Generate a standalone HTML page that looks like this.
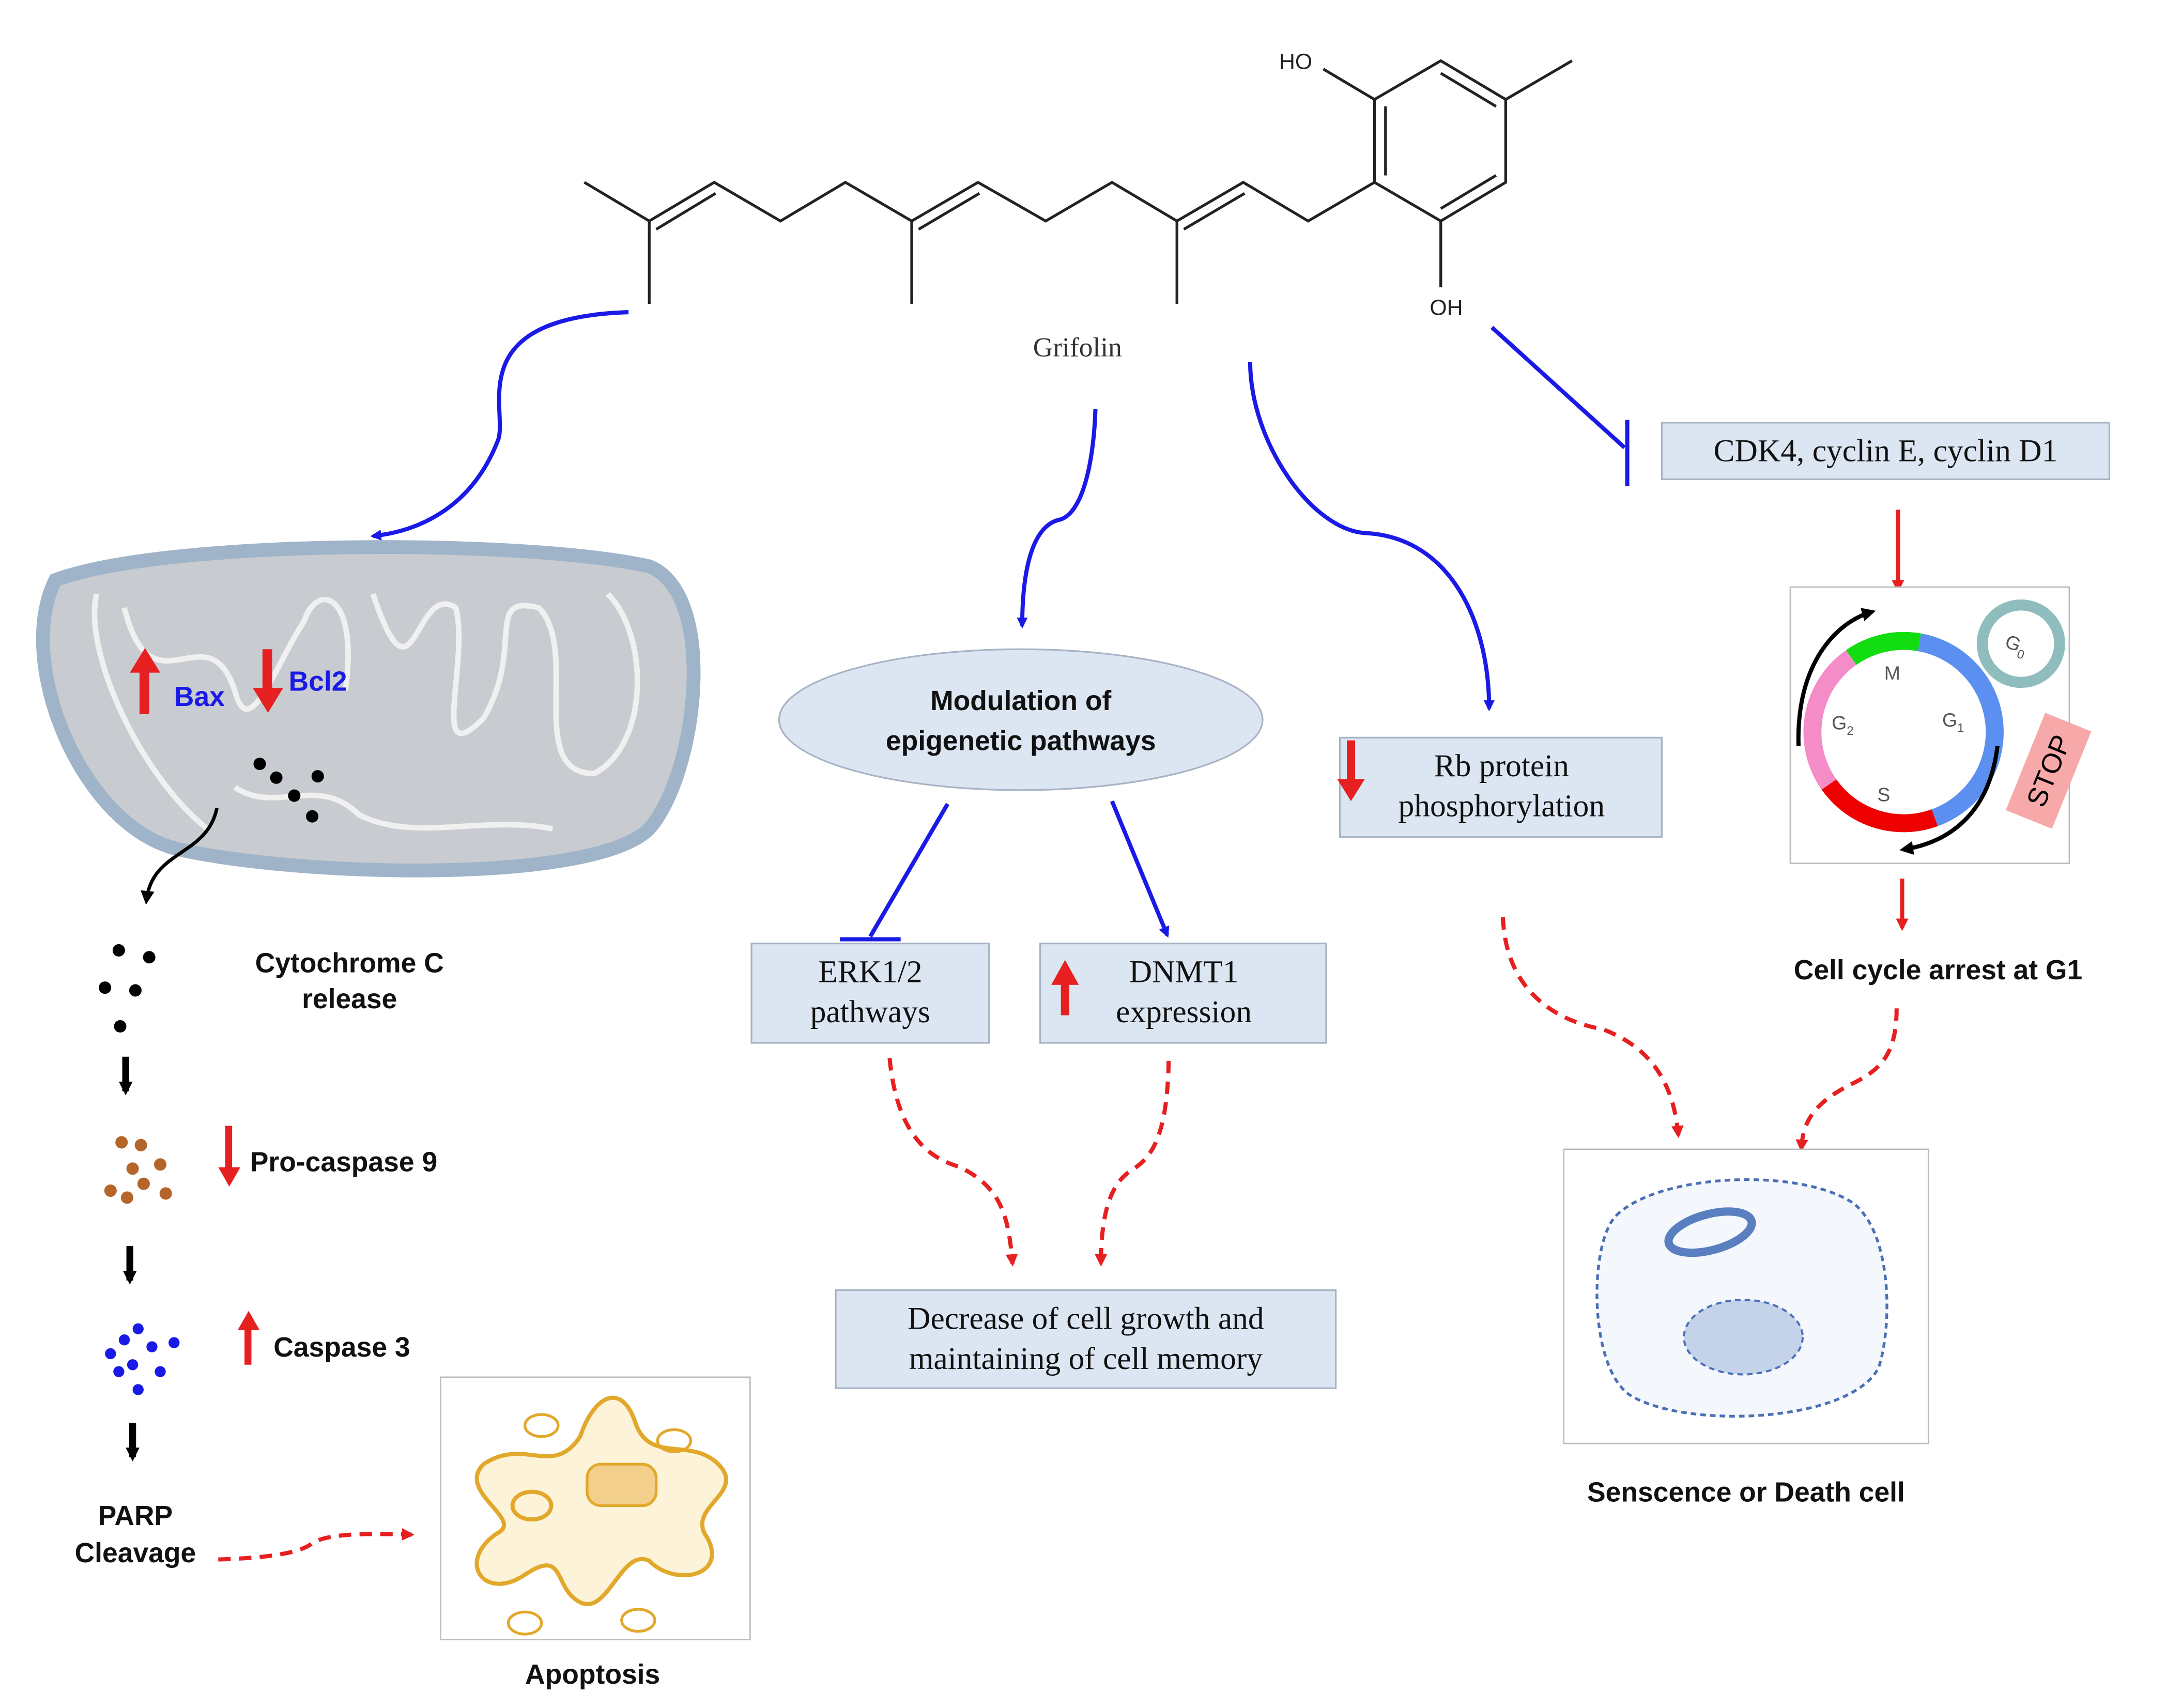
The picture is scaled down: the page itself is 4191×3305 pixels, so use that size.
<!DOCTYPE html>
<html><head><meta charset="utf-8"><style>
html,body{margin:0;padding:0;background:#fff}
svg{display:block}
.s{font-family:"Liberation Serif",serif}
.c{font-family:"Liberation Sans",sans-serif;font-weight:bold}
</style></head><body>
<svg width="4191" height="3305" viewBox="0 0 1568 1236.5" preserveAspectRatio="none" xmlns="http://www.w3.org/2000/svg">
<defs>
<marker id="ab" markerWidth="8" markerHeight="8" refX="6" refY="4" orient="auto" markerUnits="userSpaceOnUse"><path d="M0,0 L8,4 L0,8 z" fill="#1a1ae6"/></marker>
<marker id="ar" markerWidth="9" markerHeight="9" refX="7" refY="4.5" orient="auto" markerUnits="userSpaceOnUse"><path d="M0,0 L9,4.5 L0,9 z" fill="#e62020"/></marker>
<marker id="ak" markerWidth="10" markerHeight="10" refX="7" refY="5" orient="auto" markerUnits="userSpaceOnUse"><path d="M0,0 L10,5 L0,10 z" fill="#000"/></marker>
</defs>
<rect width="1568" height="1237" fill="#fff"/>
<!-- molecule -->
<g stroke="#222" stroke-width="2" fill="none">
<polyline points="423,132 470,160 517,132 565,160 612,132 660,160 708,132 757,160 805,132 852,160 900,132 947,160 995,132"/>
<line x1="475" y1="166" x2="518" y2="140"/><line x1="665" y1="166" x2="709" y2="140"/><line x1="857" y1="166" x2="901" y2="140"/>
<line x1="470" y1="160" x2="470" y2="220"/><line x1="660" y1="160" x2="660" y2="220"/><line x1="852" y1="160" x2="852" y2="220"/>
<polygon points="995,132 995,72 1043,44 1090,72 1090,132 1043,160"/>
<line x1="1003" y1="127" x2="1003" y2="77"/><line x1="1043" y1="53" x2="1083" y2="77"/><line x1="1083" y1="127" x2="1043" y2="151"/>
<line x1="995" y1="72" x2="958" y2="50"/><line x1="1090" y1="72" x2="1138" y2="44"/><line x1="1043" y1="160" x2="1043" y2="208"/>
</g>
<text x="926" y="50" font-family="Liberation Sans" font-size="16" fill="#222">HO</text>
<text x="1035" y="228" font-family="Liberation Sans" font-size="16" fill="#222">OH</text>
<text x="780" y="258" class="s" font-size="20" text-anchor="middle" fill="#333">Grifolin</text>
<!-- blue connectors -->
<g stroke="#1a1ae6" stroke-width="3" fill="none">
<path d="M455,226 C330,230 370,300 360,320 C340,370 300,385 270,388" marker-end="url(#ab)"/>
<path d="M793,296 C792,330 785,370 768,376 C745,380 740,420 740,453" marker-end="url(#ab)"/>
<path d="M905,262 C905,320 950,385 990,386 C1050,390 1078,450 1078,513" marker-end="url(#ab)"/>
<line x1="1080" y1="237" x2="1176" y2="324"/><line x1="1178" y1="304" x2="1178" y2="352"/>
<line x1="686" y1="582" x2="630" y2="678"/><line x1="608" y1="680" x2="652" y2="680"/>
<line x1="805" y1="580" x2="845" y2="677" marker-end="url(#ab)"/>
</g>
<!-- boxes -->
<g fill="#dce6f2" stroke="#a7b3c4" stroke-width="1.2">
<rect x="1203" y="306" width="324" height="41"/>
<rect x="970" y="534" width="233" height="72"/>
<rect x="544" y="683" width="172" height="72"/>
<rect x="753" y="683" width="207" height="72"/>
<rect x="605" y="934" width="362" height="71"/>
</g>
<ellipse cx="739" cy="521" rx="175" ry="51" fill="#dce6f2" stroke="#a7b3c4" stroke-width="1.2"/>
<text x="1365" y="334" class="s" font-size="23" text-anchor="middle" fill="#111">CDK4, cyclin E, cyclin D1</text>
<text x="1087" y="562" class="s" font-size="23" text-anchor="middle" fill="#111">Rb protein</text>
<text x="1087" y="591" class="s" font-size="23" text-anchor="middle" fill="#111">phosphorylation</text>
<text x="630" y="711" class="s" font-size="23" text-anchor="middle" fill="#111">ERK1/2</text>
<text x="630" y="740" class="s" font-size="23" text-anchor="middle" fill="#111">pathways</text>
<text x="857" y="711" class="s" font-size="23" text-anchor="middle" fill="#111">DNMT1</text>
<text x="857" y="740" class="s" font-size="23" text-anchor="middle" fill="#111">expression</text>
<text x="786" y="962" class="s" font-size="23" text-anchor="middle" fill="#111">Decrease of cell growth and</text>
<text x="786" y="991" class="s" font-size="23" text-anchor="middle" fill="#111">maintaining of cell memory</text>
<text x="739" y="514" font-family="Liberation Sans" font-weight="bold" font-size="20" text-anchor="middle" fill="#111">Modulation of</text>
<text x="739" y="543" font-family="Liberation Sans" font-weight="bold" font-size="20" text-anchor="middle" fill="#111">epigenetic pathways</text>
<!-- red dashed -->
<g stroke="#e62020" stroke-width="3" fill="none" stroke-dasharray="9,6">
<path d="M644,766 C650,830 680,840 695,845 C725,860 730,880 733,915" marker-end="url(#ar)"/>
<path d="M846,768 C845,830 830,840 818,848 C800,860 797,890 797,915" marker-end="url(#ar)"/>
<path d="M1088,664 C1090,720 1130,740 1160,745 C1200,760 1212,790 1215,822" marker-end="url(#ar)"/>
<path d="M1373,730 C1373,765 1360,775 1340,785 C1310,800 1305,815 1304,832" marker-end="url(#ar)"/>
<path d="M158,1129 C190,1128 215,1125 225,1118 C235,1110 265,1110 298,1111" marker-end="url(#ar)"/>
</g>
<g stroke="#e62020" stroke-width="3"><line x1="1374" y1="369" x2="1374" y2="427" marker-end="url(#ar)"/><line x1="1377" y1="636" x2="1377" y2="672" marker-end="url(#ar)"/></g>
<!-- cell cycle -->
<rect x="1296" y="425" width="202" height="200" fill="#fff" stroke="#bbb" stroke-width="1"/>
<g fill="none" stroke-width="13">
<path d="M1389.5,465 A66,66 0 0 1 1400.6,592" stroke="#5b8ff0"/>
<path d="M1400.6,592 A66,66 0 0 1 1324,567.9" stroke="#ee0000"/>
<path d="M1324,567.9 A66,66 0 0 1 1340.1,476" stroke="#f48cc8"/>
<path d="M1340.1,476 A66,66 0 0 1 1389.5,465" stroke="#11dd11"/>
</g>
<circle cx="1463" cy="466" r="28" fill="none" stroke="#8fbcbc" stroke-width="8"/>
<g font-family="Liberation Sans" font-size="14" fill="#555">
<text x="1364" y="492">M</text><text x="1326" y="528">G<tspan font-size="9" dy="4">2</tspan></text>
<text x="1406" y="526">G<tspan font-size="9" dy="4">1</tspan></text><text x="1359" y="580">S</text>
<text x="1452" y="472" transform="rotate(20 1462 466)">G<tspan font-size="9" dy="4">0</tspan></text>
</g>
<path d="M1302,540 C1300,480 1330,450 1355,443" stroke="#000" stroke-width="3" fill="none" marker-end="url(#ak)"/>
<path d="M1446,540 C1440,590 1410,610 1378,615" stroke="#000" stroke-width="3" fill="none" marker-end="url(#ak)"/>
<g transform="rotate(22 1483 558)"><rect x="1465" y="520" width="36" height="76" fill="#f7a8a8"/><text x="1483" y="558" font-family="Liberation Sans" font-size="20" fill="#000" transform="rotate(-90 1483 558)" text-anchor="middle" dy="7">STOP</text></g>
<text x="1403" y="709" class="c" font-size="20" text-anchor="middle" fill="#111">Cell cycle arrest at G1</text>
<!-- cell -->
<rect x="1132" y="832" width="264" height="213" fill="#fff" stroke="#bbb"/>
<path d="M1170,880 C1200,850 1300,845 1340,870 C1370,890 1370,960 1360,990 C1340,1030 1220,1035 1180,1010 C1150,990 1150,900 1170,880 z" fill="#f4f7fb" stroke="#4a6fb5" stroke-width="2" stroke-dasharray="4,3"/>
<ellipse cx="1262" cy="968" rx="43" ry="27" fill="#c4d3ea" stroke="#4a6fb5" stroke-width="1.5" stroke-dasharray="4,3"/>
<ellipse cx="1238" cy="892" rx="31" ry="13" fill="none" stroke="#5a7fc0" stroke-width="6" transform="rotate(-15 1238 892)"/>
<text x="1264" y="1087" class="c" font-size="20" text-anchor="middle" fill="#111">Senscence or Death cell</text>
<!-- mitochondrion -->
<path d="M40,420 C120,390 380,390 470,410 C520,430 505,560 470,600 C430,640 220,635 130,615 C60,600 10,480 40,420 z" fill="#c8ccd0" stroke="#9fb4c9" stroke-width="10"/>
<path d="M70,430 C60,470 100,560 150,600 M90,440 C110,520 150,440 170,500 C180,540 200,480 220,450 C230,420 260,430 250,500 M270,430 C300,520 300,420 330,440 C340,480 310,560 350,520 C380,470 350,430 390,440 C420,470 380,560 430,560 C470,540 470,460 440,430 M170,570 C200,590 230,560 260,590 C300,610 350,590 400,600" stroke="#f0f0f0" stroke-width="4" fill="none"/>
<!-- red fat arrows -->
<g fill="#e62020">
<path d="M975,536 h6 v28 h7 l-10,16 l-10,-16 h7 z"/>
<path d="M768,735 h6 v-22 h7 l-10,-18 l-10,18 h7 z"/>
<path d="M101,517 h7 v-30 h8 l-11,-18 l-11,18 h7 z"/>
<path d="M190,470 h7 v28 h8 l-11,18 l-11,-18 h7 z"/>
<path d="M163,815 h5 v30 h6 l-8,14 l-8,-14 h5 z"/>
<path d="M177,988 h5 v-25 h6 l-8,-14 l-8,14 h5 z"/>
</g>
<text x="126" y="511" font-family="Liberation Sans" font-weight="bold" font-size="20" fill="#1a1ae6">Bax</text>
<text x="209" y="500" font-family="Liberation Sans" font-weight="bold" font-size="20" fill="#1a1ae6">Bcl2</text>
<g fill="#000"><circle cx="188" cy="553" r="4.5"/><circle cx="200" cy="563" r="4.5"/><circle cx="213" cy="576" r="4.5"/><circle cx="230" cy="562" r="4.5"/><circle cx="226" cy="591" r="4.5"/>
<circle cx="86" cy="688" r="4.5"/><circle cx="108" cy="693" r="4.5"/><circle cx="76" cy="715" r="4.5"/><circle cx="98" cy="717" r="4.5"/><circle cx="87" cy="743" r="4.5"/></g>
<path d="M157,585 C150,620 110,615 106,652" stroke="#000" stroke-width="2.5" fill="none" marker-end="url(#ak)"/>
<text x="253" y="704" class="c" font-size="20" text-anchor="middle" fill="#111">Cytochrome C</text>
<text x="253" y="730" class="c" font-size="20" text-anchor="middle" fill="#111">release</text>
<g stroke="#000" stroke-width="5"><line x1="91" y1="765" x2="91" y2="790" marker-end="url(#ak)"/><line x1="94" y1="902" x2="94" y2="927" marker-end="url(#ak)"/><line x1="96" y1="1030" x2="96" y2="1055" marker-end="url(#ak)"/></g>
<g fill="#b5652a"><circle cx="88" cy="827" r="4.5"/><circle cx="102" cy="829" r="4.5"/><circle cx="116" cy="843" r="4.5"/><circle cx="96" cy="846" r="4.5"/><circle cx="104" cy="857" r="4.5"/><circle cx="80" cy="862" r="4.5"/><circle cx="92" cy="867" r="4.5"/><circle cx="120" cy="864" r="4.5"/></g>
<text x="181" y="848" class="c" font-size="20" fill="#111">Pro-caspase 9</text>
<g fill="#1a1ae6"><circle cx="100" cy="962" r="4"/><circle cx="90" cy="970" r="4"/><circle cx="110" cy="975" r="4"/><circle cx="126" cy="972" r="4"/><circle cx="80" cy="980" r="4"/><circle cx="96" cy="988" r="4"/><circle cx="86" cy="993" r="4"/><circle cx="116" cy="993" r="4"/><circle cx="100" cy="1006" r="4"/></g>
<text x="198" y="982" class="c" font-size="20" fill="#111">Caspase 3</text>
<text x="98" y="1104" class="c" font-size="20" text-anchor="middle" fill="#111">PARP</text>
<text x="98" y="1131" class="c" font-size="20" text-anchor="middle" fill="#111">Cleavage</text>
<!-- apoptosis -->
<rect x="319" y="997" width="224" height="190" fill="#fff" stroke="#bbb"/>
<path d="M350,1060 C380,1040 400,1070 420,1040 C430,1010 450,1000 460,1030 C470,1060 500,1040 520,1060 C540,1080 500,1090 510,1110 C530,1140 490,1150 470,1130 C450,1120 440,1170 420,1160 C400,1150 410,1120 380,1140 C350,1160 330,1130 360,1110 C380,1100 330,1080 350,1060 z" fill="#fdf3d8" stroke="#e2a82c" stroke-width="3"/>
<rect x="425" y="1060" width="50" height="30" rx="10" fill="#f2d08c" stroke="#e2a82c" stroke-width="2"/>
<ellipse cx="385" cy="1090" rx="14" ry="10" fill="none" stroke="#e2a82c" stroke-width="3"/>
<ellipse cx="392" cy="1032" rx="12" ry="8" fill="none" stroke="#e2a82c" stroke-width="2"/>
<ellipse cx="488" cy="1043" rx="12" ry="8" fill="none" stroke="#e2a82c" stroke-width="2"/>
<ellipse cx="380" cy="1175" rx="12" ry="8" fill="none" stroke="#e2a82c" stroke-width="2"/>
<ellipse cx="462" cy="1173" rx="12" ry="8" fill="none" stroke="#e2a82c" stroke-width="2"/>
<text x="429" y="1219" class="c" font-size="20" text-anchor="middle" fill="#111">Apoptosis</text>
</svg>
</body></html>
